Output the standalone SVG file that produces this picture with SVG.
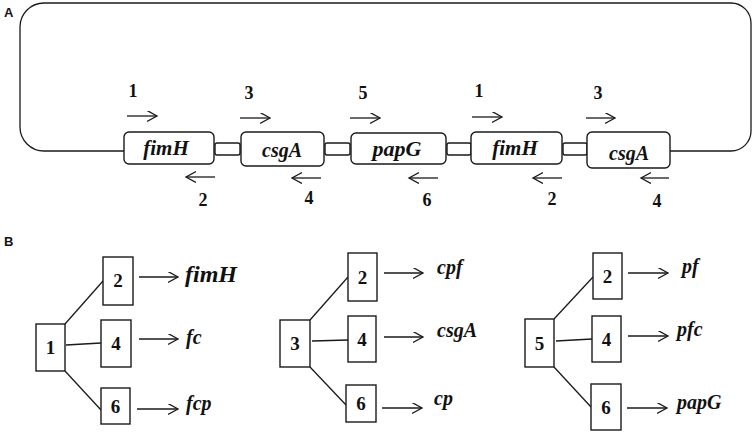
<svg xmlns="http://www.w3.org/2000/svg" width="754" height="438" viewBox="0 0 754 438">
<defs>
<style>
.ln{fill:none;stroke:#1a1a1a;stroke-width:1.3}
.bx{fill:#fff;stroke:#1a1a1a;stroke-width:1.4}
.ar{fill:none;stroke:#1a1a1a;stroke-width:1.3;marker-end:url(#ah)}
.num{font-family:"Liberation Serif",serif;font-weight:bold;font-size:18px;fill:#111;text-anchor:middle}
.gene{font-family:"Liberation Serif",serif;font-weight:bold;font-style:italic;font-size:20px;fill:#111;text-anchor:middle}
.geneB{font-family:"Liberation Serif",serif;font-weight:bold;font-style:italic;font-size:20px;fill:#111}
.bnum{font-family:"Liberation Serif",serif;font-weight:bold;font-size:19px;fill:#111;text-anchor:middle}
.panel{font-family:"Liberation Sans",Arial,sans-serif;font-weight:bold;font-size:13px;fill:#111}
</style>
<marker id="ah" markerUnits="userSpaceOnUse" markerWidth="14" markerHeight="14" refX="10" refY="5.5" orient="auto">
<path d="M0,0 L10,5.5 L0,11" fill="none" stroke="#1a1a1a" stroke-width="1.3"/>
</marker>
</defs>
<rect width="754" height="438" fill="#fff"/>
<text class="panel" x="4" y="17">A</text>
<text class="panel" x="4" y="246">B</text>

<g id="connectors">
<path class="ln" d="M124,151 H44 A24,24 0 0 1 20,127 V27 A24,24 0 0 1 44,3 H731 A20,20 0 0 1 751,23 V131 A20,20 0 0 1 731,151 H670"/>
<line class="ar" x1="127" y1="116" x2="157" y2="116"/>
<line class="ar" x1="240" y1="118" x2="270" y2="118"/>
<line class="ar" x1="350" y1="118" x2="380" y2="118"/>
<line class="ar" x1="472" y1="117" x2="502" y2="117"/>
<line class="ar" x1="586" y1="118" x2="615" y2="118"/>
<line class="ar" x1="215" y1="177" x2="186" y2="177"/>
<line class="ar" x1="321" y1="178" x2="292" y2="178"/>
<line class="ar" x1="438" y1="178" x2="409" y2="178"/>
<line class="ar" x1="562" y1="178" x2="533" y2="178"/>
<line class="ar" x1="669" y1="178" x2="641" y2="178"/>
<line class="ln" x1="65" y1="324" x2="103" y2="281"/>
<line class="ln" x1="66" y1="345" x2="101" y2="343"/>
<line class="ln" x1="65" y1="371" x2="101" y2="410"/>
<line class="ar" x1="139" y1="277" x2="178" y2="277"/>
<line class="ar" x1="139" y1="339" x2="178" y2="339"/>
<line class="ar" x1="137" y1="409" x2="178" y2="409"/>
<line class="ln" x1="310" y1="320" x2="348" y2="277"/>
<line class="ln" x1="312" y1="341" x2="348" y2="340"/>
<line class="ln" x1="310" y1="367" x2="346" y2="405"/>
<line class="ar" x1="384" y1="273" x2="423" y2="273"/>
<line class="ar" x1="384" y1="337" x2="423" y2="337"/>
<line class="ar" x1="382" y1="408" x2="422" y2="408"/>
<line class="ln" x1="554" y1="319" x2="593" y2="277"/>
<line class="ln" x1="556" y1="341" x2="592" y2="339"/>
<line class="ln" x1="554" y1="367" x2="591" y2="407"/>
<line class="ar" x1="628" y1="273" x2="668" y2="273"/>
<line class="ar" x1="628" y1="336" x2="668" y2="336"/>
<line class="ar" x1="627" y1="408" x2="667" y2="408"/>
</g>

<g id="linkers">
<rect class="bx" x="215" y="143" width="25" height="12" rx="2"/>
<rect class="bx" x="325" y="143" width="25" height="12" rx="2"/>
<rect class="bx" x="447" y="143" width="24" height="12" rx="2"/>
<rect class="bx" x="563" y="143" width="24" height="12" rx="2"/>
</g>

<g id="gene-fimH-1"><rect class="bx" x="124" y="132" width="90" height="32" rx="5"/><text class="gene" x="166" y="155" style="font-size:21px">fimH</text></g>
<g id="gene-csgA-1"><rect class="bx" x="241" y="132" width="83" height="34" rx="5"/><text class="gene" x="282" y="157">csgA</text></g>
<g id="gene-papG"><rect class="bx" x="351" y="133" width="95" height="31" rx="5"/><text class="gene" x="397" y="156" style="font-size:22px">papG</text></g>
<g id="gene-fimH-2"><rect class="bx" x="471" y="132" width="91" height="32" rx="5"/><text class="gene" x="515" y="155" style="font-size:21px">fimH</text></g>
<g id="gene-csgA-2"><rect class="bx" x="587" y="132" width="83" height="36" rx="5"/><text class="gene" x="629" y="160">csgA</text></g>

<g id="primer-labels">
<text class="num" x="133" y="97">1</text>
<text class="num" x="249" y="99">3</text>
<text class="num" x="363" y="99">5</text>
<text class="num" x="479" y="97">1</text>
<text class="num" x="598" y="99">3</text>
<text class="num" x="203" y="206">2</text>
<text class="num" x="309" y="204">4</text>
<text class="num" x="427" y="206">6</text>
<text class="num" x="552" y="205">2</text>
<text class="num" x="657" y="207">4</text>
</g>

<g id="b1-1"><rect class="bx" x="36" y="324" width="29" height="47"/><text class="bnum" x="50.5" y="354">1</text></g>
<g id="b1-2"><rect class="bx" x="103" y="257" width="30" height="48"/><text class="bnum" x="118" y="287">2</text></g>
<g id="b1-4"><rect class="bx" x="101" y="320" width="30" height="47"/><text class="bnum" x="116" y="350">4</text></g>
<g id="b1-6"><rect class="bx" x="101" y="388" width="29" height="36"/><text class="bnum" x="115.5" y="413">6</text></g>
<g id="b1-labels">
<text class="geneB" x="185" y="282" style="font-size:24px">fimH</text>
<text class="geneB" x="186" y="344">fc</text>
<text class="geneB" x="186" y="410">fcp</text>
</g>

<g id="b2-3"><rect class="bx" x="280" y="320" width="30" height="47"/><text class="bnum" x="295" y="350">3</text></g>
<g id="b2-2"><rect class="bx" x="348" y="253" width="29" height="48"/><text class="bnum" x="362.5" y="284">2</text></g>
<g id="b2-4"><rect class="bx" x="348" y="316" width="28" height="46"/><text class="bnum" x="362" y="346">4</text></g>
<g id="b2-6"><rect class="bx" x="346" y="385" width="30" height="37"/><text class="bnum" x="361" y="410">6</text></g>
<g id="b2-labels">
<text class="geneB" x="437" y="274">cpf</text>
<text class="geneB" x="437" y="337">csgA</text>
<text class="geneB" x="434" y="405">cp</text>
</g>

<g id="b3-5"><rect class="bx" x="525" y="319" width="29" height="48"/><text class="bnum" x="539.5" y="350">5</text></g>
<g id="b3-2"><rect class="bx" x="593" y="253" width="29" height="46"/><text class="bnum" x="607.5" y="283">2</text></g>
<g id="b3-4"><rect class="bx" x="592" y="316" width="29" height="46"/><text class="bnum" x="606.5" y="346">4</text></g>
<g id="b3-6"><rect class="bx" x="591" y="384" width="30" height="46"/><text class="bnum" x="606" y="414">6</text></g>
<g id="b3-labels">
<text class="geneB" x="682" y="273">pf</text>
<text class="geneB" x="677" y="336">pfc</text>
<text class="geneB" x="677" y="409">papG</text>
</g>
</svg>
